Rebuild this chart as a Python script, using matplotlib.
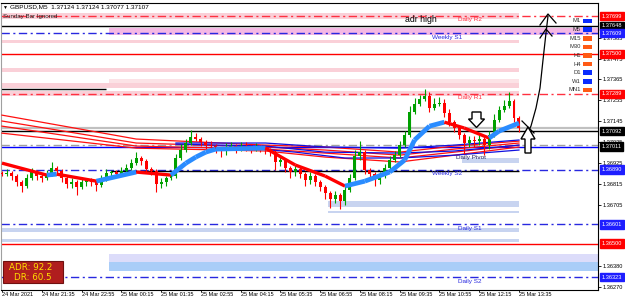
import numpy as np
import matplotlib.pyplot as plt
from matplotlib.patches import Rectangle, Polygon
from matplotlib.lines import Line2D
from matplotlib.transforms import blended_transform_factory

plt.rcParams['font.family'] = ['Liberation Sans', 'DejaVu Sans']

# ---- price data (10-min steps) ----
closes = [
    1.36866, 1.36872, 1.36856, 1.36824, 1.36803, 1.36845, 1.36877, 1.36856, 1.36845, 1.36866,
    1.36898, 1.36882, 1.36845, 1.36814, 1.36824, 1.36798, 1.36824, 1.36835, 1.36824, 1.36809,
    1.36840, 1.36872, 1.36877, 1.36866, 1.36882, 1.36898, 1.36924, 1.36951, 1.36935, 1.36893,
    1.36882, 1.36814, 1.36824, 1.36845, 1.36856, 1.36951, 1.36993, 1.37030, 1.37061, 1.37051,
    1.37035, 1.37019, 1.37014, 1.36998, 1.36988, 1.37009, 1.37014, 1.36998, 1.37014, 1.37009,
    1.36998, 1.37009, 1.37003, 1.36993, 1.36982, 1.36930, 1.36940, 1.36898, 1.36877, 1.36893,
    1.36866, 1.36835, 1.36856, 1.36824, 1.36798, 1.36766, 1.36735, 1.36756, 1.36724, 1.36782,
    1.36845, 1.36961, 1.36982, 1.36887, 1.36866, 1.36835, 1.36856, 1.36898, 1.36940, 1.36966,
    1.37019, 1.37072, 1.37193, 1.37235, 1.37262, 1.37277, 1.37214, 1.37235, 1.37241, 1.37188,
    1.37140, 1.37109, 1.37072, 1.37030, 1.37046, 1.37040, 1.37051, 1.37019, 1.37072, 1.37151,
    1.37204, 1.37225, 1.37251, 1.37161, 1.37107]
first_open = 1.36870
upper_wick = [1, 2, 1, 1, 1, 2, 2, 1, 1, 2, 3, 1, 1, 1, 2, 1, 2, 1, 1, 1,
              2, 2, 1, 1, 2, 2, 2, 3, 1, 1, 1, 1, 2, 1, 2, 2, 3, 2, 4, 2,
              1, 1, 2, 1, 1, 2, 2, 1, 2, 2, 1, 2, 1, 1, 1, 1, 2, 1, 1, 2,
              1, 1, 2, 1, 1, 1, 1, 2, 1, 2, 2, 3, 6, 1, 1, 1, 2, 2, 2, 2,
              2, 2, 3, 3, 2, 4, 2, 3, 3, 2, 2, 1, 1, 1, 2, 2, 2, 1, 2, 3,
              2, 3, 5, 1, 1]
lower_wick = [1, 1, 2, 2, 3, 1, 1, 2, 2, 1, 1, 2, 2, 2, 2, 4, 1, 2, 2, 3,
              1, 1, 2, 1, 1, 1, 1, 1, 2, 2, 2, 4, 2, 2, 1, 1, 1, 1, 1, 1,
              2, 2, 2, 2, 3, 2, 1, 2, 1, 2, 2, 1, 2, 2, 2, 4, 2, 2, 3, 2,
              2, 3, 2, 2, 2, 3, 5, 2, 4, 2, 1, 1, 2, 2, 3, 3, 2, 1, 1, 1,
              1, 1, 1, 1, 1, 1, 2, 1, 1, 2, 2, 2, 2, 6, 2, 3, 2, 5, 2, 1,
              1, 1, 1, 2, 2]

time_labels = ["24 Mar 2021", "24 Mar 21:35", "24 Mar 22:55", "25 Mar 00:15", "25 Mar 01:35",
               "25 Mar 02:55", "25 Mar 04:15", "25 Mar 05:35", "25 Mar 06:55", "25 Mar 08:15",
               "25 Mar 09:35", "25 Mar 10:55", "25 Mar 12:15", "25 Mar 13:35"]

# trend MA (blue rising / red falling) read at bar positions
trend_idx = [0, 9, 11, 19, 27, 34, 37, 39, 41, 43, 53, 59, 65, 69, 73, 78, 81, 83, 86, 89, 93, 98, 100, 104]
trend_val = [1.36924, 1.36861, 1.36866, 1.36829, 1.36877, 1.36861, 1.36924, 1.36956, 1.36982, 1.36998,
             1.37003, 1.36914, 1.36856, 1.36803, 1.36829, 1.36877, 1.36940, 1.37046, 1.37119, 1.37140,
             1.37109, 1.37056, 1.37093, 1.37135]

# slow moving averages
red_ma_idx = [0, 27, 53, 65, 80, 91, 104]
red_ma = [
    [1.37177, 1.37051, 1.37019, 1.37009, 1.36982, 1.37014, 1.37040],
    [1.37146, 1.37030, 1.37009, 1.36993, 1.36966, 1.36998, 1.37030],
    [1.37119, 1.37014, 1.36998, 1.36977, 1.36951, 1.36982, 1.37019],
    [1.37082, 1.37003, 1.36988, 1.36956, 1.36930, 1.36966, 1.37009]]
blue_ma_idx = [[35, 53, 65, 80, 91, 104], [35, 53, 65, 80, 91, 104], [47, 59, 69, 80, 91, 104]]
blue_ma = [
    [1.37030, 1.37030, 1.37009, 1.37003, 1.37019, 1.37046],
    [1.37024, 1.37014, 1.36982, 1.36977, 1.36988, 1.37019],
    [1.37009, 1.36982, 1.36951, 1.36951, 1.36966, 1.36993]]

# horizontal levels: price, colour, style
level_prices = [1.37699, 1.37648, 1.37609, 1.37500, 1.37289, 1.37107, 1.37092, 1.37022, 1.37008,
                1.36890, 1.36601, 1.36500, 1.36323]
level_colors = ['#FF3040', 'black', '#2828E0', '#FF0000', '#FF3040', '#C0C0C0', 'black', '#A0A0A0',
                '#0000FF', '#2828E0', '#2828E0', '#FF0000', '#2828E0']
level_styles = ['dd', '-', 'dd', '-', 'dd', '-', '-', 'dd', '-', 'dd', 'dd', '-', 'dd']
level_names = {1.37699: "Daily R2", 1.37609: "Weekly S1", 1.37289: "Daily R1",
               1.36890: "Weekly S2", 1.36601: "Daily S1", 1.36323: "Daily S2"}

# zones: start bar, end bar (None = to right edge), low, high, colour
zone_start = [0, 22, 0, 0, 22, 0, 0, 93, 66, 66, 0, 0, 22, 22]
zone_end = [104, None, 104, 104, 104, 104, 104, 104, 104, 104, 104, 104, None, None]
zone_low = [1.37683, 1.37599, 1.37557, 1.37404, 1.37346, 1.37320, 1.37277, 1.36924, 1.36692, 1.36661,
            1.36561, 1.36508, 1.36403, 1.36355]
zone_high = [1.37715, 1.37636, 1.37573, 1.37425, 1.37367, 1.37346, 1.37304, 1.36951, 1.36724, 1.36671,
             1.36580, 1.36523, 1.36445, 1.36403]
zone_colors = ['#FAD0D8', '#F4B8E4', '#FAD0D8', '#FAD0D8', '#FCE2E6', '#FAD0D8', '#FAD0D8', '#C8D4F0',
               '#C8D4F0', '#C8D4F0', '#C8D4F0', '#C8D4F0', '#DCDCFA', '#A9CDF8']

price_ticks = [1.37585, 1.37475, 1.37365, 1.37255, 1.37145, 1.37035, 1.36925, 1.36815, 1.36705,
               1.36380, 1.36270]
tag_prices = [1.37699, 1.37648, 1.37609, 1.37500, 1.37289, 1.37092, 1.37011, 1.36890, 1.36601,
              1.36500, 1.36323]
tag_colors = ['#FF0000', 'black', '#1E1EFF', '#FF0000', '#FF0000', 'black', 'black', '#1E1EFF',
              '#1E1EFF', '#FF0000', '#1E1EFF']

tf_names = ["M1", "M5", "M15", "M30", "H1", "H4", "D1", "W1", "MN1"]
tf_colors = ['#0A2CFF', '#0A2CFF', '#FF5A14', '#FF5A14', '#FF5A14', '#FF5A14', '#0A2CFF', '#0A2CFF', '#FF5A14']

# ---- figure ----
W, H = 625, 297
fig = plt.figure(figsize=(W / 100, H / 100), dpi=100)
ax = fig.add_axes([1 / W, 7.5 / H, 597 / W, 286.5 / H])
ax.set_xlim(-0.2, 119.9)
ax.set_ylim(1.36258, 1.37768)
xr = ax.get_xlim()[1]

dd = (0, (6, 2.5, 1.5, 2.5))

for s, e, lo, hi, c in zip(zone_start, zone_end, zone_low, zone_high, zone_colors):
    e = xr if e is None else e
    ax.add_patch(Rectangle((s - 0.5, lo), e - s + 0.5, hi - lo, fc=c, ec='none', zorder=1))

for p, c, st in zip(level_prices, level_colors, level_styles):
    lw = 1.6 if c == '#C0C0C0' else 1.0
    ax.axhline(p, color=c, lw=lw, ls=dd if st == 'dd' else '-', zorder=2)
# partial lines
ax.hlines(1.37314, -0.5, 21, color='black', lw=1.0, zorder=2)
ax.hlines(1.36880, 22, 104, color='black', lw=1.0, zorder=2)

xt = blended_transform_factory(ax.transAxes, ax.transData)
for p, name in level_names.items():
    xa = 0.722 if name.startswith("Weekly") else 0.765
    col = '#2828E0' if ('S' in name.split()[1]) else '#FF3040'
    ax.annotate(name, (xa, p), xycoords=xt, xytext=(0, -1), textcoords='offset points',
                fontsize=4.6, color=col, va='top', ha='left', zorder=6)
ax.text(0.762, 1.36955, "Daily Pivot", transform=xt, fontsize=4.6, color='#202060',
        va='center', ha='left', zorder=3)

for k in range(4):
    ax.plot(red_ma_idx, red_ma[k], color='#FF1010', lw=0.9, zorder=3)
for k in range(3):
    ax.plot(blue_ma_idx[k], blue_ma[k], color='#1010E0', lw=0.9, zorder=3)

# candles
opens = [first_open] + closes[:-1]
for i, (o, c, uw, lw_) in enumerate(zip(opens, closes, upper_wick, lower_wick)):
    col = '#00A000' if c >= o else '#FF0000'
    hi = max(o, c) + uw * 0.0001
    lo = min(o, c) - lw_ * 0.0001
    ax.vlines(i, lo, hi, color=col, lw=0.8, zorder=4)
    ax.bar(i, max(abs(c - o), 0.00002), bottom=min(o, c), width=0.6, color=col, lw=0, zorder=4)

# trend MA coloured by direction
for j in range(len(trend_idx) - 1):
    up = trend_val[j + 1] >= trend_val[j]
    ax.plot(trend_idx[j:j + 2], trend_val[j:j + 2], color='#2A8CFF' if up else '#FF0000',
            lw=3.4 if up else 2.4, solid_capstyle='butt', zorder=5)

# axes styling
for sp in ax.spines.values():
    sp.set_color('black')
    sp.set_linewidth(0.8)
ax.spines['left'].set_color('#A0A0A0')
ax.set_xticks([8 * k for k in range(len(time_labels))])
ax.set_xticklabels(time_labels, fontsize=4.0, ha='left')
ax.tick_params(axis='x', length=1.5, width=0.6, pad=0.3)
ax.yaxis.tick_right()
ax.set_yticks(price_ticks)
ax.set_yticklabels([f"{p:.5f}" for p in price_ticks], fontsize=4.1)
ax.tick_params(axis='y', length=2, width=0.6, pad=1)
for p, c in zip(tag_prices, tag_colors):
    ax.text(1.006, p, f"{p:.5f}", transform=xt, fontsize=4.1, color='white', va='center', ha='left',
            clip_on=False, zorder=7,
            bbox=dict(boxstyle='square,pad=0.3', fc=c, ec=c))


# ---- overlay texts / drawings in pixel coordinates ----
def fx(px):
    return px / W


def fy(py):
    return 1 - py / H


fig.text(fx(3), fy(7), "\u25bc", fontsize=3.6, va='center', ha='left')
fig.text(fx(10), fy(7), "GBPUSD,M5  1.37124 1.37124 1.37077 1.37107", fontsize=4.6, va='center', ha='left')
fig.text(fx(3), fy(16.5), "Sunday Bar Ignored", fontsize=4.4, va='center', ha='left', color='#202020')
fig.text(fx(405), fy(20), "adr high", fontsize=6.3, va='center', ha='left', color='black')

for k, (n, c) in enumerate(zip(tf_names, tf_colors)):
    yy = 21 + 8.6 * k
    fig.text(fx(581), fy(yy), n, fontsize=4.2, va='center', ha='right', color='#303030')
    fig.patches.append(Rectangle((fx(583), fy(yy + 2.3)), 9 / W, 4.6 / H, fc=c, ec='none',
                                 transform=fig.transFigure, figure=fig))

# ADR box
fig.patches.append(Rectangle((fx(3), fy(283)), 60 / W, 22 / H, fc='#B01E1E', ec='#701010', lw=0.8,
                             transform=fig.transFigure, figure=fig, zorder=8))
fig.text(fx(52), fy(267.5), "ADR: 92.2", fontsize=6.3, color='#FFE000', va='center', ha='right', zorder=9,
         family='DejaVu Sans')
fig.text(fx(52), fy(277.5), "DR: 60.5", fontsize=6.3, color='#FFE000', va='center', ha='right', zorder=9,
         family='DejaVu Sans')

# hollow arrows
down_arrow = [(472, 112), (481, 112), (481, 119), (484.5, 119), (476.5, 127.5), (468.5, 119), (472, 119)]
up_arrow = [(528, 127), (535, 139), (531, 139), (531, 153), (525, 153), (525, 139), (521, 139)]
for pts in (down_arrow, up_arrow):
    fig.patches.append(Polygon([(fx(a), fy(b)) for a, b in pts], closed=True, fc='white', ec='black',
                               lw=1.0, transform=fig.transFigure, figure=fig, zorder=8))

# hand-drawn arrow to adr high
curve = [(527, 134), (531, 126), (536, 108), (540, 88), (543, 60), (546, 33), (548, 16)]
strokes = [curve,
           [(522, 121), (534, 133)],
           [(540, 25), (548, 14), (556, 23)],
           [(540, 38), (546, 29), (552, 36)]]
for st in strokes:
    fig.lines.append(Line2D([fx(a) for a, b in st], [fy(b) for a, b in st], color='black', lw=0.9,
                            transform=fig.transFigure, figure=fig, zorder=8))

fig.savefig("out.png", dpi=100)
